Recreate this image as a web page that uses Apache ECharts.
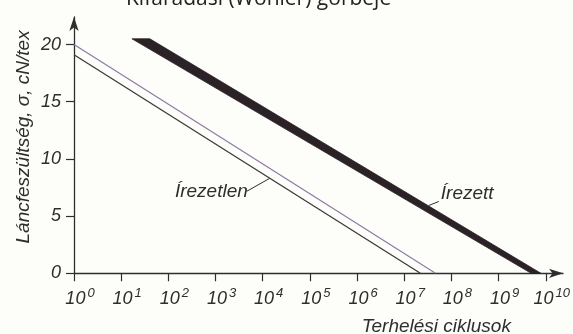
<!DOCTYPE html>
<html>
<head>
<meta charset="utf-8">
<script src="https://cdn.jsdelivr.net/npm/echarts@6/dist/echarts.min.js"></script>
<style>
  html, body { margin: 0; padding: 0; background: #fdfdfa; }
  #chart { width: 573px; height: 334px; }
</style>
</head>
<body>
<div id="chart"></div>
<script>
// Fatigue (Wöhler) curves of warp yarn: stress vs. number of load cycles (log scale)
const titleText = 'Kifáradási (Wöhler) görbéje';
const yAxisTitle = 'Láncfeszültség, σ, cN/tex';
const xAxisTitle = 'Terhelési ciklusok';
const yTicks = [0, 5, 10, 15, 20];
const xTickExponents = [0, 1, 2, 3, 4, 5, 6, 7, 8, 9, 10];

// unsized yarn (Írezetlen)
const unsizedX = [1, 2.2e7];
const unsizedY = [19.1, 0];
// thin companion line next to it
const companionX = [1, 4.6e7];
const companionY = [20, 0];
// sized yarn (Írezett): scatter band, upper and lower edges
const sizedUpperX = [40.5, 7.9e9];
const sizedUpperY = [20.5, 0];
const sizedLowerX = [16.9, 4.9e9];
const sizedLowerY = [20.5, 0];

const labelUnsized = 'Írezetlen';
const labelSized = 'Írezett';

const FONT = '"Liberation Sans", Arial, sans-serif';
const INK = '#2e2e2e';

const zip = (xs, ys) => xs.map((x, i) => [x, ys[i]]);
const bandOutline = zip(sizedUpperX, sizedUpperY)
  .concat(zip(sizedLowerX, sizedLowerY).reverse());

const chart = echarts.init(document.getElementById('chart'));

const option = {
  backgroundColor: '#fdfdfa',
  animation: false,
  title: {
    text: titleText,
    left: 121,
    top: -16,
    textStyle: { fontFamily: '"Open Sans", sans-serif', fontSize: 21, fontWeight: 'normal', color: '#222' }
  },
  grid: [
    { left: 74, right: 26.3, top: 44.5, bottom: 60.7 },
    // frame carrying the arrowed axis lines
    { left: 74, right: 10, top: 17, bottom: 60.7 }
  ],
  xAxis: [
    {
      type: 'log', logBase: 10, min: 1, max: 1e10, interval: 1, gridIndex: 0,
      axisLine: { show: false },
      axisTick: { show: true, length: 8, lineStyle: { color: INK, width: 1.2 } },
      splitLine: { show: false },
      axisLabel: {
        margin: 14,
        padding: [0, 0, 0, 12],
        formatter: v => {
          const e = Math.round(Math.log10(v));
          return xTickExponents.indexOf(e) >= 0 ? '{b|10}{s|' + e + '}' : '';
        },
        rich: {
          b: { fontFamily: FONT, fontStyle: 'italic', fontSize: 18, color: INK, verticalAlign: 'bottom' },
          s: { fontFamily: FONT, fontStyle: 'italic', fontSize: 13, color: INK, verticalAlign: 'top', padding: [0, 0, 8, 2] }
        }
      }
    },
    {
      type: 'value', min: 0, max: 1, gridIndex: 1,
      axisLine: { show: true, symbol: ['none', 'arrow'], symbolSize: [7, 14], lineStyle: { color: INK, width: 1.3 } },
      axisTick: { show: false }, axisLabel: { show: false }, splitLine: { show: false }
    }
  ],
  yAxis: [
    {
      type: 'value', min: yTicks[0], max: yTicks[yTicks.length - 1], interval: 5, gridIndex: 0,
      axisLine: { show: false },
      axisTick: { show: true, length: 8, lineStyle: { color: INK, width: 1.2 } },
      splitLine: { show: false },
      axisLabel: { margin: 13, fontFamily: FONT, fontStyle: 'italic', fontSize: 18, color: INK }
    },
    {
      type: 'value', min: 0, max: 1, gridIndex: 1,
      axisLine: { show: true, symbol: ['none', 'arrow'], symbolSize: [7, 14], lineStyle: { color: INK, width: 1.3 } },
      axisTick: { show: false }, axisLabel: { show: false }, splitLine: { show: false }
    }
  ],
  series: [
    {
      name: 'band', type: 'custom', xAxisIndex: 0, yAxisIndex: 0, clip: false, z: 3,
      data: [[1, 0]],
      renderItem: (params, api) => ({
        type: 'polygon',
        shape: { points: bandOutline.map(p => api.coord(p)) },
        style: { fill: '#2a2226', stroke: '#2a2226', lineWidth: 0.8 }
      })
    },
    {
      name: 'companion', type: 'line', xAxisIndex: 0, yAxisIndex: 0, showSymbol: false, clip: false,
      data: zip(companionX, companionY),
      lineStyle: { color: '#8d76a3', width: 1.1 }
    },
    {
      name: 'unsized', type: 'line', xAxisIndex: 0, yAxisIndex: 0, showSymbol: false, clip: false,
      data: zip(unsizedX, unsizedY),
      lineStyle: { color: '#3a3a3a', width: 1.3 }
    }
  ]
};
chart.setOption(option);

// axis titles and curve annotations, anchored through the chart's own scales
const along = (xs, ys, x) => {
  const t = (Math.log10(x) - Math.log10(xs[0])) / (Math.log10(xs[1]) - Math.log10(xs[0]));
  return [x, ys[0] + t * (ys[1] - ys[0])];
};
const toPx = p => chart.convertToPixel({ xAxisIndex: 0, yAxisIndex: 0 }, p);

const gridRect = chart.getModel().getComponent('grid', 0).coordinateSystem.getRect();
const unsizedAnchor = toPx(along(unsizedX, unsizedY, Math.pow(10, 4.15)));
const sizedAnchor = toPx(along(sizedUpperX, sizedUpperY, Math.pow(10, 7.5)));

const textStyle = { fontFamily: FONT, fontStyle: 'italic', fontSize: 19, fill: INK };

chart.setOption({
  graphic: [
    {
      type: 'text', rotation: Math.PI / 2, x: 24, y: gridRect.y + gridRect.height / 2 - 22,
      style: Object.assign({ text: yAxisTitle, align: 'center', verticalAlign: 'middle' }, textStyle)
    },
    {
      type: 'text', x: gridRect.x + gridRect.width * 0.768, y: 327,
      style: Object.assign({ text: xAxisTitle, align: 'center', verticalAlign: 'middle' }, textStyle)
    },
    {
      type: 'line', shape: { x1: unsizedAnchor[0], y1: unsizedAnchor[1], x2: unsizedAnchor[0] - 23, y2: unsizedAnchor[1] + 13 },
      style: { stroke: INK, lineWidth: 1 }
    },
    {
      type: 'text', x: unsizedAnchor[0] - 22, y: unsizedAnchor[1] + 23,
      style: Object.assign({ text: labelUnsized, align: 'right', verticalAlign: 'bottom' }, textStyle)
    },
    {
      type: 'line', shape: { x1: sizedAnchor[0] + 1, y1: sizedAnchor[1], x2: sizedAnchor[0] + 11, y2: sizedAnchor[1] - 4 },
      style: { stroke: INK, lineWidth: 1 }
    },
    {
      type: 'text', x: sizedAnchor[0] + 13, y: sizedAnchor[1] - 2,
      style: Object.assign({ text: labelSized, align: 'left', verticalAlign: 'bottom' }, textStyle)
    }
  ]
});
</script>
</body>
</html>
